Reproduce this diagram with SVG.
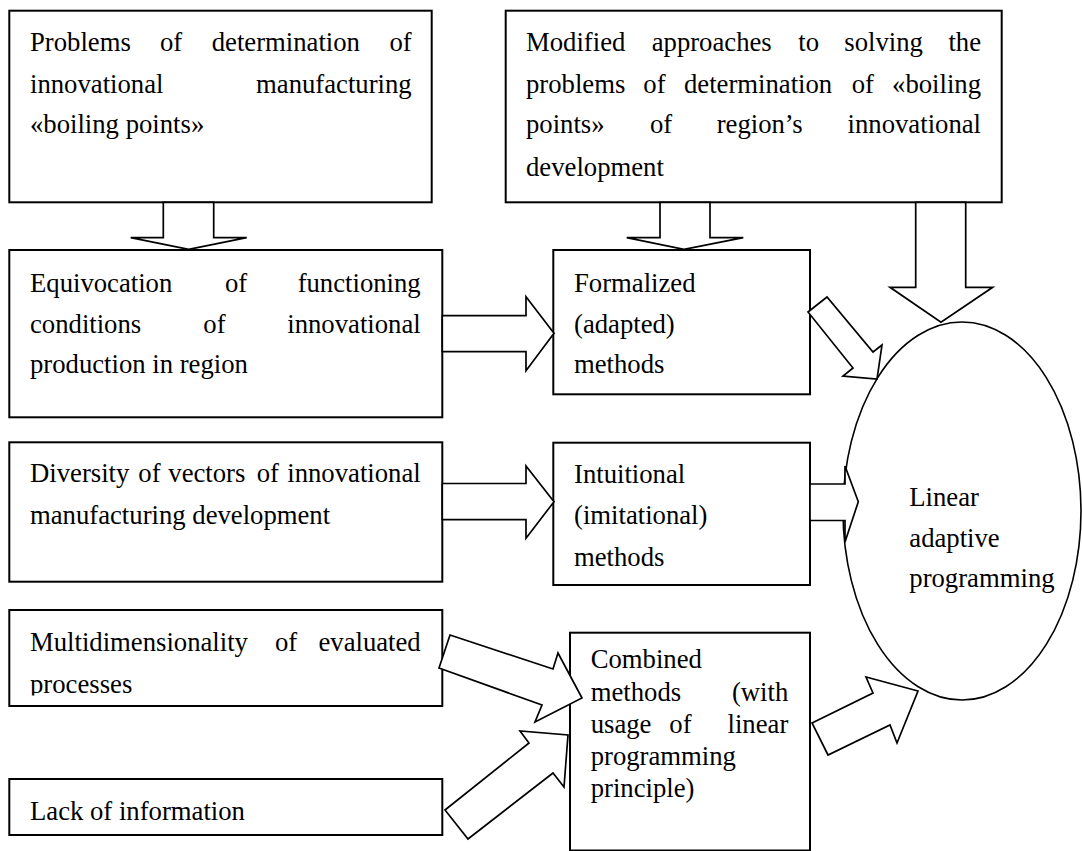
<svg xmlns="http://www.w3.org/2000/svg" width="1082" height="851" viewBox="0 0 1082 851" font-family="Liberation Serif, Times New Roman, DejaVu Serif, serif" font-size="26.7">
<style>
.box{fill:#fff;stroke:#000;stroke-width:2}
.ell{fill:none;stroke:#000;stroke-width:1.6}
.arr{fill:#fff;stroke:#000;stroke-width:1.7;stroke-linejoin:miter}
.t{font-family:'Liberation Serif','Times New Roman','DejaVu Serif',serif;font-size:26.7px;fill:#000}
.e{text-anchor:end}
</style>
<defs>
<clipPath id="clipProc"><rect x="0" y="600" width="450" height="95.5"/></clipPath>
</defs>
<rect width="1082" height="851" fill="#fff"/>

<g id="node-problems" class="t">
<rect class="box" x="9.3" y="10.7" width="422.4" height="191.6"/>
<text y="50.7"><tspan x="30">Problems</tspan><tspan x="160">of</tspan><tspan x="211.7">determination</tspan></text>
<text class="e" x="411.7" y="50.7">of</text>
<text x="30" y="92.7">innovational</text>
<text class="e" x="411.7" y="92.7">manufacturing</text>
<text x="30" y="133.3">«boiling points»</text>
</g>

<g id="node-modified" class="t">
<rect class="box" x="505.7" y="10.7" width="496" height="191.6"/>
<text y="50.7"><tspan x="526">Modified</tspan><tspan x="651.7">approaches</tspan><tspan x="798.3">to</tspan><tspan x="844.3">solving</tspan></text>
<text class="e" x="981" y="50.7">the</text>
<text y="92.7"><tspan x="526">problems</tspan><tspan x="643.3">of</tspan><tspan x="684">determination</tspan><tspan x="851.7">of</tspan></text>
<text class="e" x="981" y="92.7">«boiling</text>
<text y="133.3"><tspan x="526">points»</tspan><tspan x="650">of</tspan><tspan x="716.7">region’s</tspan></text>
<text class="e" x="981" y="133.3">innovational</text>
<text x="526" y="175.7">development</text>
</g>

<g id="node-equivocation" class="t">
<rect class="box" x="9.3" y="250" width="433" height="167.3"/>
<text y="291.8"><tspan x="30">Equivocation</tspan><tspan x="225">of</tspan></text>
<text class="e" x="420.7" y="291.8">functioning</text>
<text y="333.3"><tspan x="30">conditions</tspan><tspan x="203.3">of</tspan></text>
<text class="e" x="420.7" y="333.3">innovational</text>
<text x="30" y="373.3">production in region</text>
</g>

<g id="node-diversity" class="t">
<rect class="box" x="9.3" y="442.3" width="433" height="139.4"/>
<text y="482.3"><tspan x="30">Diversity</tspan><tspan x="138.3">of</tspan><tspan x="168.3">vectors</tspan><tspan x="256.7">of</tspan></text>
<text class="e" x="420.7" y="482.3">innovational</text>
<text x="30" y="523.7">manufacturing development</text>
</g>

<g id="node-multidim" class="t">
<rect class="box" x="9.3" y="610" width="433" height="96"/>
<text y="650.7"><tspan x="30">Multidimensionality</tspan><tspan x="275">of</tspan></text>
<text class="e" x="420.7" y="650.7">evaluated</text>
<text x="30" y="692.7" clip-path="url(#clipProc)">processes</text>
</g>

<g id="node-lack" class="t">
<rect class="box" x="9.3" y="779" width="433" height="56"/>
<text x="30" y="820">Lack of information</text>
</g>

<g id="node-formalized" class="t">
<rect class="box" x="553.3" y="250" width="256.7" height="144.3"/>
<text x="574" y="291.8">Formalized</text>
<text x="574" y="333.3">(adapted)</text>
<text x="574" y="373.3">methods</text>
</g>

<g id="node-intuitional" class="t">
<rect class="box" x="553.3" y="442.7" width="256.7" height="142.3"/>
<text x="574" y="483.3">Intuitional</text>
<text x="574" y="524">(imitational)</text>
<text x="574" y="565.7">methods</text>
</g>

<g id="node-combined" class="t">
<rect class="box" x="570" y="632.7" width="240" height="217.8"/>
<text x="590.7" y="668.3">Combined</text>
<text x="590.7" y="701">methods</text>
<text class="e" x="788.3" y="701">(with</text>
<text y="733.3"><tspan x="590.7">usage</tspan><tspan x="669.3">of</tspan></text>
<text class="e" x="788.3" y="733.3">linear</text>
<text x="590.7" y="765">programming</text>
<text x="590.7" y="796.7">principle)</text>
</g>

<g id="node-linear" class="t">
<ellipse class="ell" cx="962" cy="511" rx="119" ry="189"/>
<text x="909.3" y="506">Linear</text>
<text x="909.3" y="546.7">adaptive</text>
<text x="909.3" y="587">programming</text>
</g>

<g id="connectors">
<polygon class="arr" points="163.3,202.3 163.3,237.7 130.7,237.7 188.7,249.3 246.7,237.7 213.7,237.7 213.7,202.3"/>
<polygon class="arr" points="660,202.3 660,237.7 626.7,237.7 684,249.3 743.3,237.7 710,237.7 710,202.3"/>
<polygon class="arr" points="915.7,202.3 915.7,287.3 890,287.3 941,322.3 992.7,287.3 965.7,287.3 965.7,202.3"/>
<polygon class="arr" points="442.3,315.7 526,315.7 526,296.7 554,333.3 526,370.7 526,351.7 442.3,351.7"/>
<polygon class="arr" points="442.3,483.5 526,483.5 526,466 554,501.7 526,538.3 526,519.7 442.3,519.7"/>
<polygon class="arr" points="810,484 845,484 845,466 858.3,501.7 845,542 845,520.5 810,520.5"/>
<polygon class="arr" points="808,312 827,297 873,352 882,345 877,379 843,376 853,368"/>
<polygon class="arr" points="439,668 450,635 553,669 558,653 582,698 535,722 542,705"/>
<polygon class="arr" points="445,810 529,743 520,731 568,735 564,787 553,773 468,839"/>
<polygon class="arr" points="812,723 873,693 866,677 918,691 897,743 890,725 828,755"/>
</g>
</svg>
